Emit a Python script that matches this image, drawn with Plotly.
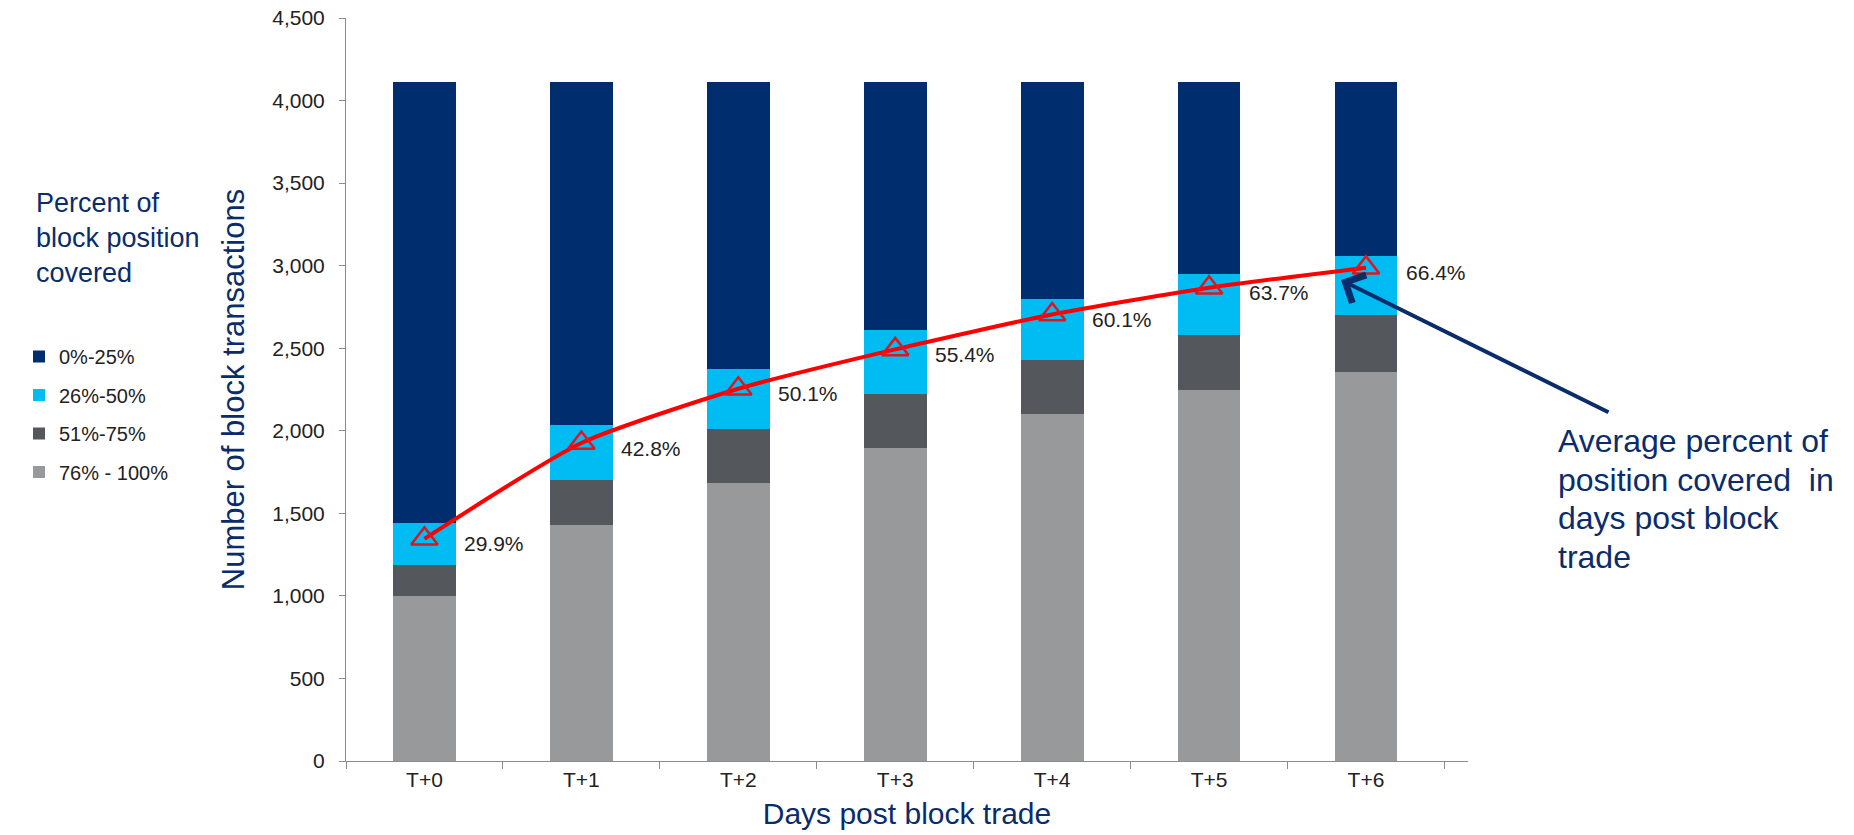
import plotly.graph_objects as go

# ---- data ----
categories = ["T+0", "T+1", "T+2", "T+3", "T+4", "T+5", "T+6"]
seg_76_100 = [1000, 1428, 1682, 1896, 2101, 2246, 2355]
seg_51_75 = [188, 273, 326, 327, 325, 334, 348]
seg_26_50 = [252, 333, 364, 387, 372, 372, 357]
seg_0_25 = [2670, 2076, 1738, 1500, 1312, 1158, 1050]
avg_pct = [29.9, 42.8, 50.1, 55.4, 60.1, 63.7, 66.4]

series_names = ["76% - 100%", "51%-75%", "26%-50%", "0%-25%"]
series_values = [seg_76_100, seg_51_75, seg_26_50, seg_0_25]
series_colors = ["#98999B", "#54575C", "#00BCF2", "#002D6E"]
legend_ranks = [4, 3, 2, 1]
y_ticks = [0, 500, 1000, 1500, 2000, 2500, 3000, 3500, 4000, 4500]
callout_lines = ["Average percent of", "position covered  in", "days post block", "trade"]

NAVY = "#0A2C6B"
FONT = "Liberation Sans, Arial, sans-serif"

W, H = 1854, 835
M_L, M_R, M_T, M_B = 346, 386, 18, 74

fig = go.Figure()
for name, vals, col, rk in zip(series_names, series_values, series_colors, legend_ranks):
    fig.add_trace(go.Bar(
        x=categories, y=vals, name=name, marker=dict(color=col, line=dict(width=0)),
        legendgroup=name, legendrank=rk, hoverinfo="skip",
    ))

fig.add_trace(go.Scatter(
    x=categories, y=avg_pct, yaxis="y2", mode="lines+markers",
    line=dict(color="#FF0000", width=4, shape="spline", smoothing=0.6),
    marker=dict(symbol="triangle-up-open", size=23, color="#E3141B",
                line=dict(width=2.5, color="#E3141B")),
    showlegend=False, hoverinfo="skip",
))

annotations = []
for c, p in zip(categories, avg_pct):
    annotations.append(dict(
        x=c, y=p, xref="x", yref="y2", text=f"{p:.1f}%", showarrow=False,
        xanchor="left", yanchor="middle", xshift=38, yshift=-5,
        font=dict(family=FONT, size=21, color="#222222"),
    ))

plot_w = W - M_L - M_R
plot_h = H - M_T - M_B
def px_to_paper(xp, yp):
    return (xp - M_L) / plot_w, (H - M_B - yp) / plot_h

# legend title (left)
lx, ly = px_to_paper(34, 186)
annotations.append(dict(
    x=lx, y=ly, xref="paper", yref="paper", text="Percent of<br>block position<br>covered",
    showarrow=False, xanchor="left", yanchor="top", align="left",
    font=dict(family=FONT, size=27, color=NAVY),
))
# callout text, one line per annotation for tighter line spacing
for i, line in enumerate(callout_lines):
    tx, ty = px_to_paper(1556, 441 + i * 38.5)
    annotations.append(dict(
        x=tx, y=ty, xref="paper", yref="paper", text=line,
        showarrow=False, xanchor="left", yanchor="middle", align="left",
        font=dict(family=FONT, size=32, color=NAVY),
    ))
# callout arrow
ax_, ay_ = px_to_paper(1341, 280)
annotations.append(dict(
    x=ax_, y=ay_, xref="paper", yref="paper", text="", showarrow=True,
    ax=269, ay=133, axref="pixel", ayref="pixel",
    arrowhead=4, arrowsize=1.5, arrowwidth=4, arrowcolor=NAVY,
))

fig.update_layout(
    width=W, height=H,
    margin=dict(l=M_L, r=M_R, t=M_T, b=M_B, autoexpand=False),
    paper_bgcolor="white", plot_bgcolor="white",
    barmode="stack", bargap=0.6,
    font=dict(family=FONT, size=20, color="#222222"),
    xaxis=dict(
        type="category", showline=True, linecolor="#8C8C8C", linewidth=1,
        ticks="outside", tickson="boundaries", ticklen=7, tickcolor="#8C8C8C",
        tickfont=dict(size=21, color="#222222"), showgrid=False, zeroline=False,
        title=dict(text="Days post block trade", standoff=12,
                   font=dict(family=FONT, size=30, color=NAVY)),
    ),
    yaxis=dict(
        range=[0, 4500], tickvals=y_ticks, tickformat=",", showline=True,
        linecolor="#8C8C8C", linewidth=1, ticks="outside", ticklen=6,
        tickcolor="#8C8C8C", tickfont=dict(size=21, color="#222222"),
        showgrid=False, zeroline=False, ticklabelstandoff=10,
        title=dict(text="Number of block transactions", standoff=18,
                   font=dict(family=FONT, size=31, color=NAVY)),
    ),
    yaxis2=dict(range=[0, 100], overlaying="y", side="right", visible=False),
    legend=dict(
        xref="container", yref="container", x=19 / W, y=1 - 337 / H,
        xanchor="left", yanchor="top", traceorder="grouped",
        tracegroupgap=9.5, font=dict(family=FONT, size=20, color="#222222"),
        bgcolor="rgba(0,0,0,0)", itemclick=False,
    ),
    annotations=annotations,
    showlegend=True,
)

fig.write_html("out.html")
